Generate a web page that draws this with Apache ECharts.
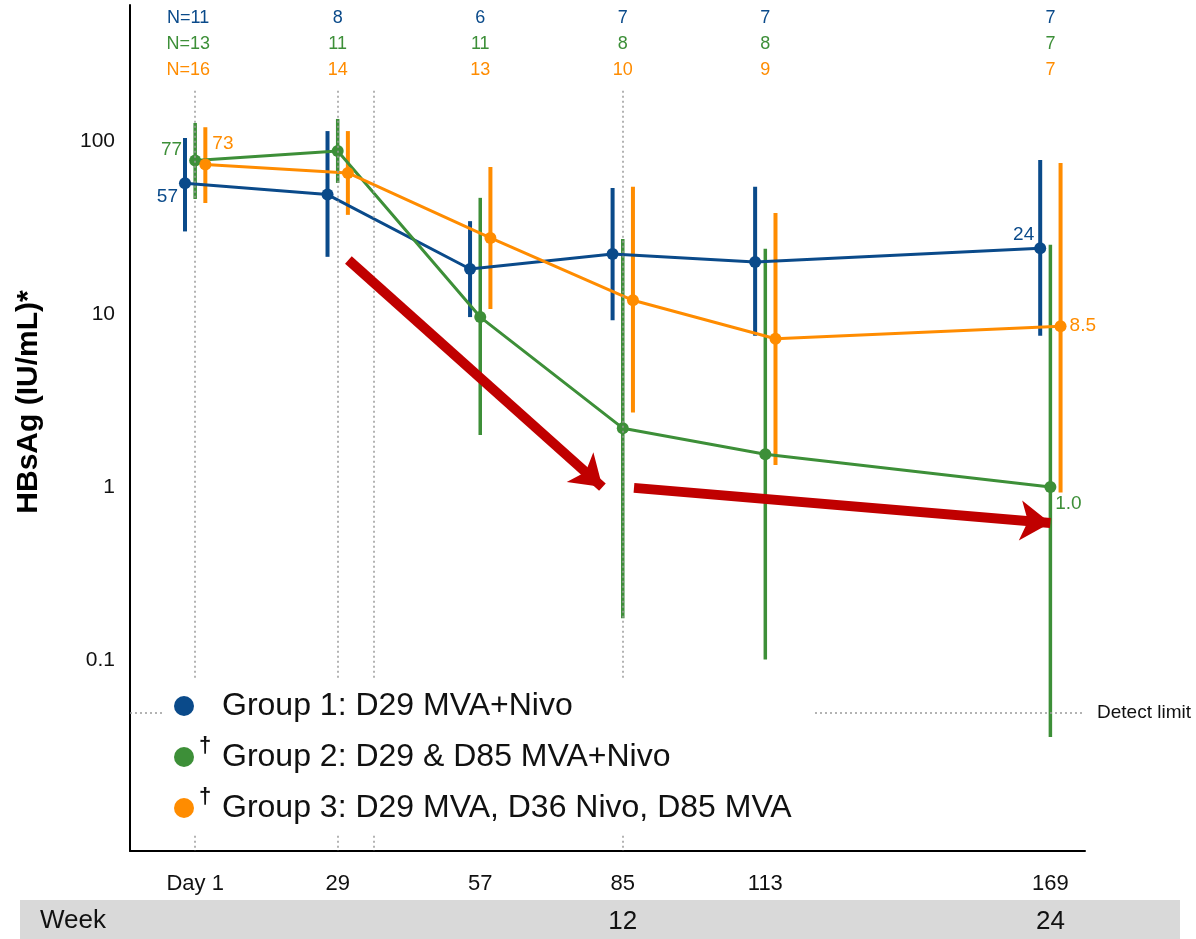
<!DOCTYPE html>
<html>
<head>
<meta charset="utf-8">
<script src="https://cdn.jsdelivr.net/npm/echarts@6/dist/echarts.min.js"></script>
<style>
  html, body { margin: 0; padding: 0; background: #fff; }
  #chart { width: 1196px; height: 939px; }
</style>
</head>
<body>
<div id="chart"></div>
<script>
// visits (study day) and labels
const visitDays = [1, 29, 57, 85, 113, 169];
const dayLabels = ["Day 1", "29", "57", "85", "113", "169"];
const weekDays = [85, 169];
const weekLabels = ["12", "24"];
const yTickValues = [0.1, 1, 10, 100];
const yTickLabels = ["0.1", "1", "10", "100"];

const groupNames = [
  "Group 1: D29 MVA+Nivo",
  "Group 2: D29 & D85 MVA+Nivo",
  "Group 3: D29 MVA, D36 Nivo, D85 MVA",
];

// HBsAg (IU/mL), mean with range
const g1Mean = [57, 49, 18.2, 22.2, 20, 24];
const g1Low = [30, 21.4, 9.6, 9.2, 7.5, 7.5];
const g1High = [104, 114, 34.4, 53.5, 54.3, 77.6];
const g2Mean = [77, 87.5, 9.6, 2.19, 1.55, 1.0];
const g2Low = [46.2, 57.2, 2.0, 0.175, 0.101, 0.036];
const g2High = [127, 134, 46.9, 27.1, 23.8, 25.1];
const g3Mean = [73, 65.3, 27.5, 12.0, 7.2, 8.5];
const g3Low = [43.8, 37.4, 10.7, 2.7, 1.34, 0.93];
const g3High = [120, 114, 70.8, 54.3, 38.3, 74.6];

// point labels shown on the chart
const g1Text = ["57", "", "", "", "", "24"];
const g2Text = ["77", "", "", "", "", "1.0"];
const g3Text = ["73", "", "", "", "", "8.5"];

// patients per visit
const g1N = [11, 8, 6, 7, 7, 7];
const g2N = [13, 11, 11, 8, 8, 7];
const g3N = [16, 14, 13, 10, 9, 7];

const detectLimit = 0.05;
const doseDays = [1, 29, 36, 85];
// annotation arrows, [day, IU/mL] from -> to
const arrowA = [[31.1, 20.5], [81, 1.0]];
const arrowB = [[87.2, 0.99], [169, 0.62]];

const BLUE = "#0a4a8a";
const GREEN = "#3d8f38";
const ORANGE = "#ff8c00";
const RED = "#c00000";
const FONT = "'Liberation Sans', Arial, sans-serif";

const xMin = -11.8, xMax = 175.8;
const yMin = 0.0079, yMax = 610;
const doseLineTop = 195;

function errorBars(color, low, high, dodge, width) {
  return {
    type: "custom",
    z: 2,
    silent: true,
    encode: { x: 0, y: [1, 2] },
    data: visitDays.map((d, i) => [d + dodge, low[i], high[i]]),
    renderItem: (params, api) => {
      const a = api.coord([api.value(0), api.value(1)]);
      const b = api.coord([api.value(0), api.value(2)]);
      return {
        type: "line",
        shape: { x1: a[0], y1: a[1], x2: b[0], y2: b[1] },
        style: { stroke: color, lineWidth: width },
      };
    },
  };
}

function groupLine(name, color, mean, text, dodge, labelStyles) {
  return {
    type: "line",
    name,
    z: 3,
    symbol: "circle",
    symbolSize: 12,
    itemStyle: { color },
    lineStyle: { color, width: 3 },
    label: { show: false },
    emphasis: { disabled: true },
    data: visitDays.map((d, i) => {
      const item = { value: [d + dodge, mean[i]] };
      if (text[i]) {
        item.label = Object.assign(
          { show: true, formatter: text[i], color, fontSize: 19, fontFamily: FONT },
          labelStyles[i]
        );
      }
      return item;
    }),
  };
}

const chart = echarts.init(document.getElementById("chart"), null, { renderer: "canvas" });

chart.setOption({
  animation: false,
  backgroundColor: "#fff",
  grid: { left: 130, right: 111, top: 5, bottom: 88 },
  xAxis: [
    {
      type: "value",
      min: xMin,
      max: xMax,
      axisLine: { show: true, onZero: false, lineStyle: { color: "#000", width: 2 } },
      axisTick: { show: false },
      splitLine: { show: false },
      axisLabel: {
        customValues: visitDays,
        margin: 22,
        fontSize: 22,
        fontFamily: FONT,
        color: "#111",
        formatter: (v) => dayLabels[visitDays.indexOf(v)] ?? "",
      },
    },
    {
      type: "value",
      position: "bottom",
      offset: 50,
      min: xMin,
      max: xMax,
      axisLine: { show: false },
      axisTick: { show: false },
      splitLine: { show: false },
      axisLabel: {
        customValues: weekDays,
        margin: 8,
        fontSize: 26,
        fontFamily: FONT,
        color: "#111",
        formatter: (v) => weekLabels[weekDays.indexOf(v)] ?? "",
      },
    },
    {
      type: "value",
      position: "top",
      min: xMin,
      max: xMax,
      axisLine: { show: false },
      axisTick: { show: false },
      splitLine: { show: false },
      axisLabel: {
        customValues: visitDays,
        inside: true,
        margin: 0,
        formatter: (v) => {
          const i = visitDays.indexOf(v);
          if (i < 0) return "";
          if (i === 0) {
            return `{a0|N=${g1N[i]}}\n{b0|N=${g2N[i]}}\n{c0|N=${g3N[i]}}`;
          }
          return `{a|${g1N[i]}}\n{b|${g2N[i]}}\n{c|${g3N[i]}}`;
        },
        rich: {
          a: { color: BLUE, fontSize: 18, lineHeight: 26, fontFamily: FONT },
          b: { color: GREEN, fontSize: 18, lineHeight: 26, fontFamily: FONT },
          c: { color: ORANGE, fontSize: 18, lineHeight: 26, fontFamily: FONT },
          a0: { color: BLUE, fontSize: 18, lineHeight: 26, fontFamily: FONT, padding: [0, 14, 0, 0] },
          b0: { color: GREEN, fontSize: 18, lineHeight: 26, fontFamily: FONT, padding: [0, 14, 0, 0] },
          c0: { color: ORANGE, fontSize: 18, lineHeight: 26, fontFamily: FONT, padding: [0, 14, 0, 0] },
        },
      },
    },
  ],
  yAxis: {
    type: "log",
    logBase: 10,
    min: yMin,
    max: yMax,
    axisLine: { show: true, onZero: false, lineStyle: { color: "#000", width: 2 } },
    axisTick: { show: false },
    splitLine: { show: false },
    minorSplitLine: { show: false },
    axisLabel: {
      margin: 15,
      fontSize: 21,
      fontFamily: FONT,
      color: "#111",
      showMinLabel: false,
      showMaxLabel: false,
      formatter: (v) => {
        const i = yTickValues.findIndex((t) => Math.abs(Math.log10(v) - Math.log10(t)) < 1e-6);
        return i < 0 ? "" : yTickLabels[i];
      },
    },
  },
  legend: {
    data: groupNames,
    z: 100,
    orient: "vertical",
    left: 163,
    top: 688,
    icon: "circle",
    itemWidth: 20,
    itemHeight: 20,
    itemGap: 13,
    padding: [2, 10, 2, 11],
    selectedMode: false,
    formatter: (name) => {
      const i = groupNames.indexOf(name);
      return (i === 0 ? "{sp| }" : "{dag|\u2020}") + `{t|${name}}`;
    },
    textStyle: {
      color: "#111",
      fontFamily: FONT,
      rich: {
        t: { fontSize: 32, fontFamily: FONT, color: "#111", lineHeight: 44 },
        dag: { fontSize: 22, fontWeight: "bold", fontFamily: FONT, color: "#111", width: 23, verticalAlign: "top", lineHeight: 24 },
        sp: { fontSize: 20, width: 23 },
      },
    },
  },
  graphic: [
    {
      type: "rect",
      z: -100,
      shape: { x: 20, y: 900, width: 1160, height: 39 },
      style: { fill: "#d9d9d9" },
    },
    {
      // white panel behind the legend
      type: "rect",
      z: 50,
      shape: { x: 163, y: 680, width: 650, height: 155 },
      style: { fill: "#fff" },
    },
    {
      type: "text",
      x: 40,
      y: 921,
      style: { text: "Week", font: `26px ${FONT}`, fill: "#111", verticalAlign: "middle", align: "left" },
    },
    {
      type: "text",
      x: 29,
      y: 402,
      rotation: Math.PI / 2,
      style: {
        text: "HBsAg (IU/mL)*",
        font: `bold 30px ${FONT}`,
        fill: "#000",
        align: "center",
        verticalAlign: "middle",
      },
    },
  ],
  series: [
    {
      type: "line",
      name: "dose days",
      z: 1,
      data: [],
      markLine: {
        silent: true,
        symbol: ["none", "none"],
        animation: false,
        label: { show: false },
        lineStyle: { color: "#9a9a9a", type: [2, 3], width: 1.5 },
        data: doseDays.map((d) => [{ coord: [d, doseLineTop] }, { coord: [d, yMin] }]),
      },
    },
    {
      type: "line",
      name: "detect limit",
      z: 1,
      data: [],
      markLine: {
        silent: true,
        symbol: ["none", "none"],
        animation: false,
        lineStyle: { color: "#9a9a9a", type: [2, 3], width: 1.5 },
        label: {
          show: true,
          position: "end",
          distance: 12,
          formatter: "Detect limit",
          color: "#111",
          fontSize: 19,
          fontFamily: FONT,
        },
        data: [{ yAxis: detectLimit }],
      },
    },
    errorBars(BLUE, g1Low, g1High, -2, 4),
    errorBars(GREEN, g2Low, g2High, 0, 3.5),
    errorBars(ORANGE, g3Low, g3High, 2, 4),
    groupLine(groupNames[0], BLUE, g1Mean, g1Text, -2, {
      0: { position: "left", distance: 1, offset: [0, 14] },
      5: { position: "left", distance: 0, offset: [0, -13] },
    }),
    groupLine(groupNames[1], GREEN, g2Mean, g2Text, 0, {
      0: { position: "left", distance: 7, offset: [0, -11] },
      5: { position: "bottom", distance: 1, offset: [18, 0] },
    }),
    groupLine(groupNames[2], ORANGE, g3Mean, g3Text, 2, {
      0: { position: "right", distance: 1, offset: [0, -21] },
      5: { position: "right", distance: 3 },
    }),
    {
      type: "line",
      name: "arrows",
      z: 6,
      data: [],
      markLine: {
        silent: true,
        animation: false,
        symbol: ["none", "arrow"],
        symbolSize: 30,
        label: { show: false },
        lineStyle: { color: RED, width: 10, type: "solid" },
        data: [
          [{ coord: arrowA[0] }, { coord: arrowA[1] }],
          [{ coord: arrowB[0] }, { coord: arrowB[1] }],
        ],
      },
    },
  ],
});
</script>
</body>
</html>
